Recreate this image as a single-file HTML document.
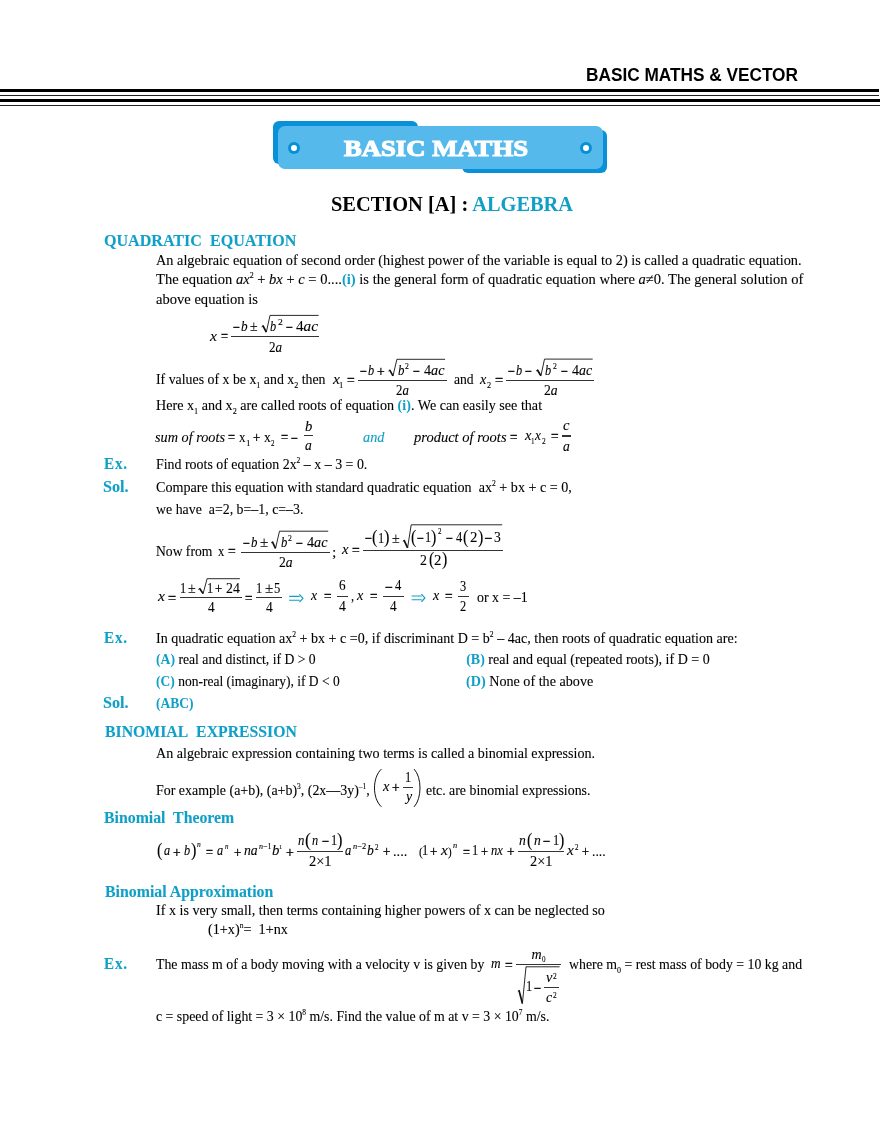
<!DOCTYPE html>
<html><head><meta charset="utf-8"><style>
*{margin:0;padding:0;box-sizing:border-box}
html,body{width:880px;height:1139px;background:#fff;overflow:hidden}
body{position:relative;font-family:"Liberation Serif",serif;color:#000;-webkit-text-stroke:0.1px currentColor}
.t{position:absolute;white-space:nowrap;line-height:1;transform-origin:0 0}
.sans{font-family:"Liberation Sans",sans-serif}
.b{font-weight:bold;-webkit-text-stroke-width:0}
b{-webkit-text-stroke-width:0}
.c{color:#0f9fc7}
.sb{font-size:0.58em;position:relative;top:0.52em}
.sp{font-size:0.54em;position:relative;top:-0.78em}
svg{position:absolute;left:0;top:0}
#pg{position:absolute;left:0;top:0;width:880px;height:1139px;will-change:transform;background:#fff}
</style></head><body><div id="pg">
<div style="position:absolute;left:0;top:89px;width:879px;height:3px;background:#000"></div>
<div style="position:absolute;left:0;top:95px;width:879px;height:1px;background:#222"></div>
<div style="position:absolute;left:0;top:99px;width:880px;height:3px;background:#000"></div>
<div style="position:absolute;left:0;top:105px;width:880px;height:1px;background:#222"></div>
<div style="position:absolute;left:273px;top:121px;width:145px;height:43px;background:#0891d8;border-radius:6px"></div>
<div style="position:absolute;left:462px;top:130px;width:145px;height:43px;background:#0891d8;border-radius:6px"></div>
<div style="position:absolute;left:278px;top:126px;width:325px;height:43px;background:#55b9ec;border-radius:7px"></div>
<div style="position:absolute;left:288px;top:142px;width:12px;height:12px;border-radius:50%;background:#0a8fd3"></div>
<div style="position:absolute;left:291px;top:145px;width:6px;height:6px;border-radius:50%;background:#fff"></div>
<div style="position:absolute;left:580px;top:142px;width:12px;height:12px;border-radius:50%;background:#0a8fd3"></div>
<div style="position:absolute;left:583px;top:145px;width:6px;height:6px;border-radius:50%;background:#fff"></div>
<div style="position:absolute;left:231.20px;top:335.70px;width:88.30px;height:1.20px;background:#333"></div>
<div style="position:absolute;left:358.30px;top:379.70px;width:88.40px;height:1.20px;background:#333"></div>
<div style="position:absolute;left:506.20px;top:379.80px;width:88.30px;height:1.20px;background:#333"></div>
<div style="position:absolute;left:303.80px;top:435.20px;width:9.10px;height:1.20px;background:#333"></div>
<div style="position:absolute;left:561.80px;top:435.40px;width:9.10px;height:1.20px;background:#333"></div>
<div style="position:absolute;left:241.40px;top:551.90px;width:88.30px;height:1.20px;background:#333"></div>
<div style="position:absolute;left:363.10px;top:549.50px;width:140.20px;height:1.20px;background:#333"></div>
<div style="position:absolute;left:179.50px;top:597.10px;width:62.20px;height:1.20px;background:#333"></div>
<div style="position:absolute;left:256.40px;top:597.10px;width:25.60px;height:1.20px;background:#333"></div>
<div style="position:absolute;left:336.80px;top:595.70px;width:11.30px;height:1.20px;background:#333"></div>
<div style="position:absolute;left:383.30px;top:595.70px;width:20.50px;height:1.20px;background:#333"></div>
<div style="position:absolute;left:458.20px;top:595.50px;width:10.60px;height:1.20px;background:#333"></div>
<div style="position:absolute;left:402.70px;top:786.70px;width:10.00px;height:1.20px;background:#333"></div>
<div style="position:absolute;left:296.50px;top:850.90px;width:46.00px;height:1.20px;background:#333"></div>
<div style="position:absolute;left:517.80px;top:850.70px;width:46.60px;height:1.20px;background:#333"></div>
<div style="position:absolute;left:516.00px;top:963.90px;width:45.00px;height:1.20px;background:#333"></div>
<div style="position:absolute;left:544.20px;top:987.15px;width:14.50px;height:0.90px;background:#333"></div>
<svg width="880" height="1139" viewBox="0 0 880 1139" fill="none" stroke="#111" stroke-linecap="butt"><path d="M261.60 326.80 L263.00 325.60" stroke-width="0.9"/><path d="M262.80 325.50 L266.30 332.20" stroke-width="1.7"/><path d="M266.30 332.20 L270.00 315.40 L318.60 315.40" stroke-width="0.9" stroke-linejoin="miter"/><path d="M388.40 371.10 L389.80 369.90" stroke-width="0.9"/><path d="M389.60 369.80 L393.00 375.90" stroke-width="1.7"/><path d="M393.00 375.90 L396.90 359.30 L445.10 359.30" stroke-width="0.9" stroke-linejoin="miter"/><path d="M536.10 371.10 L537.50 369.90" stroke-width="0.9"/><path d="M537.30 369.80 L540.90 375.80" stroke-width="1.7"/><path d="M540.90 375.80 L544.50 359.10 L592.70 359.10" stroke-width="0.9" stroke-linejoin="miter"/><path d="M271.10 543.00 L272.50 541.80" stroke-width="0.9"/><path d="M272.30 541.70 L275.50 548.40" stroke-width="1.7"/><path d="M275.50 548.40 L279.50 531.20 L328.20 531.20" stroke-width="0.9" stroke-linejoin="miter"/><path d="M402.80 541.40 L404.20 540.20" stroke-width="0.9"/><path d="M404.00 540.10 L407.60 547.80" stroke-width="1.7"/><path d="M407.60 547.80 L411.20 524.80 L502.20 524.80" stroke-width="0.9" stroke-linejoin="miter"/><path d="M198.30 589.50 L199.70 588.30" stroke-width="0.9"/><path d="M199.50 588.20 L203.10 593.60" stroke-width="1.7"/><path d="M203.10 593.60 L207.10 578.70 L239.90 578.70" stroke-width="0.9" stroke-linejoin="miter"/><g stroke="#0f9fc7" fill="none" stroke-width="1.1"><path d="M289.10 596.38 H299.70 M289.10 600.22 H299.70"/><path d="M299.44 594.45 L302.90 598.30 L299.44 602.15" stroke-width="1.2"/></g><g stroke="#0f9fc7" fill="none" stroke-width="1.1"><path d="M411.60 595.98 H421.70 M411.60 599.82 H421.70"/><path d="M421.44 594.05 L424.90 597.90 L421.44 601.75" stroke-width="1.2"/></g><path d="M381.40 769.10 C372.20 777.39 372.20 798.51 381.40 806.80" stroke-width="1.00"/><path d="M414.10 769.10 C421.97 777.39 421.97 798.51 414.10 806.80" stroke-width="1.00"/><path d="M517.80 991.50 L519.20 990.30" stroke-width="0.9"/><path d="M519.00 990.20 L522.40 1003.50" stroke-width="1.7"/><path d="M522.40 1003.50 L526.00 966.80 L559.60 966.80" stroke-width="0.9" stroke-linejoin="miter"/></svg>
<div class="t b sans" style="left:586.01px;top:67px;font-size:17.50px;transform:scaleX(0.9850);color:#000">BASIC MATHS &amp; VECTOR</div>
<div class="t b" style="left:344.18px;top:137px;font-size:23.50px;transform:scaleX(1.1347);color:#fff;-webkit-text-stroke:1.1px currentColor">BASIC MATHS</div>
<div class="t b" style="left:331.03px;top:194px;font-size:21.00px;transform:scaleX(0.9717);">SECTION [A] : <span style="color:#0f9fc7">ALGEBRA</span></div>
<div class="t b c" style="left:104.10px;top:233px;font-size:16.00px;transform:scaleX(1.0046);-webkit-text-stroke:0.1px currentColor">QUADRATIC&nbsp; EQUATION</div>
<div class="t" style="left:155.90px;top:254px;font-size:14.00px;transform:scaleX(1.0213);">An algebraic equation of second order (highest power of the variable is equal to 2) is called a quadratic equation.</div>
<div class="t" style="left:155.90px;top:273px;font-size:14.00px;transform:scaleX(1.0380);">The equation <i>ax</i><span class="sp">2</span> + <i>bx</i> + <i>c</i> = 0....<span class="c"><b>(i)</b></span> is the general form of quadratic equation where <i>a</i>&ne;0. The general solution of</div>
<div class="t" style="left:155.90px;top:293px;font-size:14.00px;transform:scaleX(1.0398);">above equation is</div>
<div class="t" style="left:156.40px;top:373px;font-size:14.00px;transform:scaleX(0.9889);">If values of x be x<span class="sb">1</span> and x<span class="sb">2</span> then</div>
<div class="t" style="left:156.40px;top:399px;font-size:14.00px;transform:scaleX(1.0089);">Here x<span class="sb">1</span> and x<span class="sb">2</span> are called roots of equation <span class="c"><b>(i)</b></span>. We can easily see that</div>
<div class="t b c" style="left:104.10px;top:456px;font-size:16.00px;transform:scaleX(0.9458);letter-spacing:0.9px;-webkit-text-stroke:0.1px currentColor">Ex.</div>
<div class="t" style="left:155.90px;top:458px;font-size:14.00px;transform:scaleX(0.9934);">Find roots of equation 2x<span class="sp">2</span> &ndash; x &ndash; 3 = 0.</div>
<div class="t b c" style="left:103.31px;top:479px;font-size:16.00px;transform:scaleX(1.0116);-webkit-text-stroke:0.1px currentColor">Sol.</div>
<div class="t" style="left:155.90px;top:481px;font-size:14.00px;transform:scaleX(1.0073);">Compare this equation with standard quadratic equation&nbsp; ax<span class="sp">2</span> + bx + c = 0,</div>
<div class="t" style="left:155.91px;top:503px;font-size:14.00px;transform:scaleX(0.9905);">we have&nbsp; a=2, b=&ndash;1, c=&ndash;3.</div>
<div class="t" style="left:155.90px;top:545px;font-size:14.00px;transform:scaleX(0.9724);">Now from</div>
<div class="t b c" style="left:104.10px;top:630px;font-size:16.00px;transform:scaleX(0.9458);letter-spacing:0.9px;-webkit-text-stroke:0.1px currentColor">Ex.</div>
<div class="t" style="left:155.90px;top:632px;font-size:14.00px;transform:scaleX(1.0043);">In quadratic equation ax<span class="sp">2</span> + bx + c =0, if discriminant D = b<span class="sp">2</span> &ndash; 4ac, then roots of quadratic equation are:</div>
<div class="t" style="left:155.50px;top:653px;font-size:14.00px;transform:scaleX(0.9773);"><span class="c"><b>(A)</b></span> real and distinct, if D &gt; 0</div>
<div class="t" style="left:466.20px;top:653px;font-size:14.00px;"><span class="c"><b>(B)</b></span> real and equal (repeated roots), if D = 0</div>
<div class="t" style="left:155.50px;top:675px;font-size:14.00px;transform:scaleX(0.9658);"><span class="c"><b>(C)</b></span> non-real (imaginary), if D &lt; 0</div>
<div class="t" style="left:466.20px;top:675px;font-size:14.00px;transform:scaleX(1.0103);"><span class="c"><b>(D)</b></span> None of the above</div>
<div class="t b c" style="left:103.31px;top:695px;font-size:16.00px;transform:scaleX(1.0116);-webkit-text-stroke:0.1px currentColor">Sol.</div>
<div class="t" style="left:155.50px;top:697px;font-size:14.00px;transform:scaleX(0.9667);"><span class="c"><b>(ABC)</b></span></div>
<div class="t b c" style="left:104.50px;top:724px;font-size:16.00px;transform:scaleX(0.9856);-webkit-text-stroke:0.1px currentColor">BINOMIAL&nbsp; EXPRESSION</div>
<div class="t" style="left:155.90px;top:747px;font-size:14.00px;transform:scaleX(1.0057);">An algebraic expression containing two terms is called a binomial expression.</div>
<div class="t" style="left:155.90px;top:784px;font-size:14.00px;transform:scaleX(0.9950);">For example (a+b), (a+b)<span class="sp">3</span>, (2x&mdash;3y)<span class="sp">&ndash;1</span>,</div>
<div class="t" style="left:425.50px;top:784px;font-size:14.00px;transform:scaleX(0.9905);">etc. are binomial expressions.</div>
<div class="t b c" style="left:103.80px;top:810px;font-size:16.00px;transform:scaleX(0.9879);-webkit-text-stroke:0.1px currentColor">Binomial&nbsp; Theorem</div>
<div class="t b c" style="left:104.50px;top:884px;font-size:16.00px;transform:scaleX(0.9900);-webkit-text-stroke:0.1px currentColor">Binomial Approximation</div>
<div class="t" style="left:155.90px;top:904px;font-size:14.00px;transform:scaleX(1.0092);">If x is very small, then terms containing higher powers of x can be neglected so</div>
<div class="t" style="left:207.70px;top:923px;font-size:14.00px;transform:scaleX(1.0138);">(1+x)<span class="sp">n</span>= &nbsp;1+nx</div>
<div class="t b c" style="left:104.10px;top:956px;font-size:16.00px;transform:scaleX(0.9458);letter-spacing:0.9px;-webkit-text-stroke:0.1px currentColor">Ex.</div>
<div class="t" style="left:155.90px;top:958px;font-size:14.00px;transform:scaleX(0.9877);">The mass m of a body moving with a velocity v is given by</div>
<div class="t" style="left:568.81px;top:958px;font-size:14.00px;transform:scaleX(0.9873);">where m<span class="sb">0</span> = rest mass of body = 10 kg and</div>
<div class="t" style="left:155.90px;top:1010px;font-size:14.00px;transform:scaleX(0.9879);">c = speed of light = 3 &times; 10<span class="sp">8</span> m/s. Find the value of m at v = 3 &times; 10<span class="sp">7</span> m/s.</div>
<div class="t" style="left:210.09px;top:330px;font-size:14.00px;transform:scaleX(1.1200);"><i>x</i></div>
<div class="t" style="left:220.90px;top:330px;font-size:14.00px;transform:scaleX(0.8875);-webkit-text-stroke:0.35px currentColor;">=</div>
<div class="t" style="left:232.68px;top:321px;font-size:14.00px;transform:scaleX(0.8800);-webkit-text-stroke:0.35px currentColor;">&minus;</div>
<div class="t" style="left:240.50px;top:320px;font-size:14.00px;transform:scaleX(0.9429);"><i>b</i></div>
<div class="t" style="left:250.40px;top:320px;font-size:14.00px;transform:scaleX(0.9893);">&plusmn;</div>
<div class="t" style="left:270.17px;top:320px;font-size:14.00px;transform:scaleX(0.8800);"><i>b</i></div>
<div class="t" style="left:277.81px;top:318px;font-size:8.60px;transform:scaleX(1.1200);">2</div>
<div class="t" style="left:285.58px;top:321px;font-size:14.00px;transform:scaleX(0.8800);-webkit-text-stroke:0.35px currentColor;">&minus;</div>
<div class="t" style="left:296.20px;top:320px;font-size:14.00px;transform:scaleX(1.0877);">4<i>ac</i></div>
<div class="t" style="left:268.90px;top:341px;font-size:14.00px;transform:scaleX(0.9357);">2<i>a</i></div>
<div class="t" style="left:333.09px;top:373px;font-size:14.00px;transform:scaleX(1.1200);"><i>x</i></div>
<div class="t" style="left:338.93px;top:382px;font-size:8.00px;transform:scaleX(1.0699);">1</div>
<div class="t" style="left:347.20px;top:374px;font-size:14.00px;transform:scaleX(0.9750);-webkit-text-stroke:0.35px currentColor;">=</div>
<div class="t" style="left:359.68px;top:365px;font-size:14.00px;transform:scaleX(0.8800);-webkit-text-stroke:0.35px currentColor;">&minus;</div>
<div class="t" style="left:367.67px;top:364px;font-size:14.00px;transform:scaleX(0.8800);"><i>b</i></div>
<div class="t" style="left:377.10px;top:365px;font-size:14.00px;transform:scaleX(0.9750);-webkit-text-stroke:0.35px currentColor;">+</div>
<div class="t" style="left:397.70px;top:364px;font-size:14.00px;transform:scaleX(0.9143);"><i>b</i></div>
<div class="t" style="left:405.30px;top:362px;font-size:8.60px;transform:scaleX(0.9000);">2</div>
<div class="t" style="left:413.08px;top:365px;font-size:14.00px;transform:scaleX(0.8800);-webkit-text-stroke:0.35px currentColor;">&minus;</div>
<div class="t" style="left:424.00px;top:364px;font-size:14.00px;transform:scaleX(1.0128);">4<i>ac</i></div>
<div class="t" style="left:396.10px;top:384px;font-size:14.00px;transform:scaleX(0.9143);">2<i>a</i></div>
<div class="t" style="left:453.50px;top:373px;font-size:14.00px;transform:scaleX(0.9706);">and</div>
<div class="t" style="left:479.53px;top:373px;font-size:14.00px;transform:scaleX(1.0200);"><i>x</i></div>
<div class="t" style="left:486.60px;top:382px;font-size:8.00px;transform:scaleX(1.0250);">2</div>
<div class="t" style="left:494.80px;top:374px;font-size:14.00px;transform:scaleX(1.0250);-webkit-text-stroke:0.35px currentColor;">=</div>
<div class="t" style="left:507.68px;top:365px;font-size:14.00px;transform:scaleX(0.8800);-webkit-text-stroke:0.35px currentColor;">&minus;</div>
<div class="t" style="left:515.57px;top:364px;font-size:14.00px;transform:scaleX(0.8800);"><i>b</i></div>
<div class="t" style="left:525.38px;top:365px;font-size:14.00px;transform:scaleX(0.8800);-webkit-text-stroke:0.35px currentColor;">&minus;</div>
<div class="t" style="left:545.37px;top:364px;font-size:14.00px;transform:scaleX(0.8800);"><i>b</i></div>
<div class="t" style="left:553.20px;top:362px;font-size:8.60px;transform:scaleX(0.9000);">2</div>
<div class="t" style="left:561.28px;top:365px;font-size:14.00px;transform:scaleX(0.8800);-webkit-text-stroke:0.35px currentColor;">&minus;</div>
<div class="t" style="left:571.80px;top:364px;font-size:14.00px;transform:scaleX(0.9978);">4<i>ac</i></div>
<div class="t" style="left:543.60px;top:384px;font-size:14.00px;transform:scaleX(0.9786);">2<i>a</i></div>
<div class="t" style="left:155.00px;top:430px;font-size:15.00px;transform:scaleX(0.9506);"><i>sum of roots</i></div>
<div class="t" style="left:228.30px;top:431px;font-size:14.00px;transform:scaleX(0.8875);-webkit-text-stroke:0.35px currentColor;">=</div>
<div class="t" style="left:238.80px;top:431px;font-size:14.00px;transform:scaleX(0.9286);">x</div>
<div class="t" style="left:245.79px;top:440px;font-size:8.00px;transform:scaleX(1.1145);">1</div>
<div class="t" style="left:252.70px;top:431px;font-size:14.00px;transform:scaleX(0.9250);-webkit-text-stroke:0.35px currentColor;">+</div>
<div class="t" style="left:263.50px;top:431px;font-size:14.00px;transform:scaleX(0.9714);">x</div>
<div class="t" style="left:271.04px;top:440px;font-size:8.00px;transform:scaleX(0.8800);">2</div>
<div class="t" style="left:280.50px;top:431px;font-size:14.00px;transform:scaleX(0.9000);-webkit-text-stroke:0.35px currentColor;">=</div>
<div class="t" style="left:290.68px;top:432px;font-size:14.00px;transform:scaleX(0.8800);-webkit-text-stroke:0.35px currentColor;">&minus;</div>
<div class="t" style="left:305.00px;top:420px;font-size:14.00px;transform:scaleX(1.0429);"><i>b</i></div>
<div class="t" style="left:305.00px;top:439px;font-size:14.00px;transform:scaleX(0.9714);"><i>a</i></div>
<div class="t c" style="left:362.60px;top:430px;font-size:15.00px;transform:scaleX(0.9522);"><i>and</i></div>
<div class="t" style="left:414.17px;top:430px;font-size:15.00px;transform:scaleX(0.9686);"><i>product of roots</i></div>
<div class="t" style="left:510.20px;top:431px;font-size:14.00px;transform:scaleX(0.9375);-webkit-text-stroke:0.35px currentColor;">=</div>
<div class="t" style="left:525.13px;top:429px;font-size:14.00px;transform:scaleX(1.0362);"><i>x</i></div>
<div class="t" style="left:530.99px;top:438px;font-size:8.00px;transform:scaleX(0.8916);">1</div>
<div class="t" style="left:535.12px;top:429px;font-size:14.00px;transform:scaleX(0.9552);"><i>x</i></div>
<div class="t" style="left:541.80px;top:438px;font-size:8.00px;transform:scaleX(0.9250);">2</div>
<div class="t" style="left:550.50px;top:430px;font-size:14.00px;transform:scaleX(0.9625);-webkit-text-stroke:0.35px currentColor;">=</div>
<div class="t" style="left:563.20px;top:419px;font-size:14.00px;transform:scaleX(1.0425);"><i>c</i></div>
<div class="t" style="left:562.70px;top:440px;font-size:14.00px;transform:scaleX(0.9714);"><i>a</i></div>
<div class="t" style="left:218.20px;top:545px;font-size:14.00px;transform:scaleX(0.9000);">x</div>
<div class="t" style="left:227.70px;top:545px;font-size:14.00px;transform:scaleX(0.9750);-webkit-text-stroke:0.35px currentColor;">=</div>
<div class="t" style="left:242.58px;top:537px;font-size:14.00px;transform:scaleX(0.8800);-webkit-text-stroke:0.35px currentColor;">&minus;</div>
<div class="t" style="left:250.90px;top:536px;font-size:14.00px;transform:scaleX(0.9143);"><i>b</i></div>
<div class="t" style="left:260.00px;top:536px;font-size:14.00px;transform:scaleX(1.0730);">&plusmn;</div>
<div class="t" style="left:280.50px;top:536px;font-size:14.00px;transform:scaleX(0.9000);"><i>b</i></div>
<div class="t" style="left:288.20px;top:534px;font-size:8.60px;transform:scaleX(0.9000);">2</div>
<div class="t" style="left:296.28px;top:537px;font-size:14.00px;transform:scaleX(0.8800);-webkit-text-stroke:0.35px currentColor;">&minus;</div>
<div class="t" style="left:307.30px;top:536px;font-size:14.00px;transform:scaleX(1.0178);">4<i>ac</i></div>
<div class="t" style="left:278.60px;top:556px;font-size:14.00px;transform:scaleX(0.9786);">2<i>a</i></div>
<div class="t" style="left:331.97px;top:546px;font-size:14.00px;transform:scaleX(1.1200);">;</div>
<div class="t" style="left:341.74px;top:543px;font-size:14.00px;transform:scaleX(1.0524);"><i>x</i></div>
<div class="t" style="left:351.90px;top:544px;font-size:14.00px;transform:scaleX(0.9750);-webkit-text-stroke:0.35px currentColor;">=</div>
<div class="t" style="left:364.70px;top:532px;font-size:14.00px;transform:scaleX(0.8875);-webkit-text-stroke:0.35px currentColor;">&minus;</div>
<div class="t" style="left:372.33px;top:528px;font-size:18.64px;transform:scaleX(0.8800);">(</div>
<div class="t" style="left:378.41px;top:532px;font-size:14.00px;transform:scaleX(0.8800);">1</div>
<div class="t" style="left:384.26px;top:528px;font-size:18.64px;transform:scaleX(0.8800);">)</div>
<div class="t" style="left:391.70px;top:532px;font-size:14.00px;transform:scaleX(1.0033);">&plusmn;</div>
<div class="t" style="left:411.46px;top:528px;font-size:18.20px;transform:scaleX(0.8800);">(</div>
<div class="t" style="left:417.03px;top:532px;font-size:14.00px;transform:scaleX(0.8800);-webkit-text-stroke:0.35px currentColor;">&minus;</div>
<div class="t" style="left:425.16px;top:531px;font-size:14.00px;transform:scaleX(0.8800);">1</div>
<div class="t" style="left:431.46px;top:528px;font-size:18.20px;transform:scaleX(0.8800);">)</div>
<div class="t" style="left:438.19px;top:528px;font-size:8.00px;transform:scaleX(0.8800);">2</div>
<div class="t" style="left:445.78px;top:532px;font-size:14.00px;transform:scaleX(0.8800);-webkit-text-stroke:0.35px currentColor;">&minus;</div>
<div class="t" style="left:455.60px;top:531px;font-size:14.00px;transform:scaleX(0.8857);">4</div>
<div class="t" style="left:463.46px;top:528px;font-size:18.20px;transform:scaleX(0.8800);">(</div>
<div class="t" style="left:469.80px;top:531px;font-size:14.00px;transform:scaleX(1.0571);">2</div>
<div class="t" style="left:477.66px;top:528px;font-size:18.20px;transform:scaleX(0.8800);">)</div>
<div class="t" style="left:484.50px;top:532px;font-size:14.00px;-webkit-text-stroke:0.35px currentColor;">&minus;</div>
<div class="t" style="left:494.20px;top:531px;font-size:14.00px;transform:scaleX(0.9714);">3</div>
<div class="t" style="left:420.30px;top:554px;font-size:14.00px;transform:scaleX(0.9857);">2</div>
<div class="t" style="left:428.51px;top:550px;font-size:18.09px;transform:scaleX(0.8800);">(</div>
<div class="t" style="left:434.00px;top:554px;font-size:14.00px;transform:scaleX(1.0571);">2</div>
<div class="t" style="left:441.86px;top:550px;font-size:18.09px;transform:scaleX(0.8800);">)</div>
<div class="t" style="left:158.44px;top:590px;font-size:14.00px;transform:scaleX(1.1171);"><i>x</i></div>
<div class="t" style="left:167.80px;top:592px;font-size:14.00px;transform:scaleX(1.0250);-webkit-text-stroke:0.35px currentColor;">=</div>
<div class="t" style="left:179.76px;top:582px;font-size:14.00px;transform:scaleX(0.8800);">1</div>
<div class="t" style="left:187.70px;top:582px;font-size:14.00px;transform:scaleX(1.0033);">&plusmn;</div>
<div class="t" style="left:206.81px;top:582px;font-size:14.00px;transform:scaleX(0.8800);">1</div>
<div class="t" style="left:215.30px;top:582px;font-size:14.00px;transform:scaleX(0.9000);-webkit-text-stroke:0.35px currentColor;">+</div>
<div class="t" style="left:225.60px;top:582px;font-size:14.00px;transform:scaleX(0.9857);">24</div>
<div class="t" style="left:207.70px;top:601px;font-size:14.00px;transform:scaleX(0.9429);">4</div>
<div class="t" style="left:245.20px;top:592px;font-size:14.00px;transform:scaleX(0.9500);-webkit-text-stroke:0.35px currentColor;">=</div>
<div class="t" style="left:256.31px;top:582px;font-size:14.00px;transform:scaleX(0.8800);">1</div>
<div class="t" style="left:264.60px;top:582px;font-size:14.00px;transform:scaleX(1.0730);">&plusmn;</div>
<div class="t" style="left:274.11px;top:582px;font-size:14.00px;transform:scaleX(0.8981);">5</div>
<div class="t" style="left:266.10px;top:601px;font-size:14.00px;transform:scaleX(0.9571);">4</div>
<div class="t" style="left:311.23px;top:589px;font-size:14.00px;transform:scaleX(0.9876);"><i>x</i></div>
<div class="t" style="left:323.50px;top:590px;font-size:14.00px;transform:scaleX(0.9500);-webkit-text-stroke:0.35px currentColor;">=</div>
<div class="t" style="left:338.70px;top:579px;font-size:14.00px;transform:scaleX(0.9429);">6</div>
<div class="t" style="left:338.70px;top:600px;font-size:14.00px;transform:scaleX(0.9714);">4</div>
<div class="t" style="left:350.68px;top:590px;font-size:14.00px;transform:scaleX(0.8800);">,</div>
<div class="t" style="left:357.33px;top:589px;font-size:14.00px;transform:scaleX(1.0200);"><i>x</i></div>
<div class="t" style="left:369.70px;top:590px;font-size:14.00px;transform:scaleX(0.9500);-webkit-text-stroke:0.35px currentColor;">=</div>
<div class="t" style="left:385.00px;top:581px;font-size:14.00px;-webkit-text-stroke:0.35px currentColor;">&minus;</div>
<div class="t" style="left:394.70px;top:579px;font-size:14.00px;transform:scaleX(0.9000);">4</div>
<div class="t" style="left:389.80px;top:600px;font-size:14.00px;transform:scaleX(0.9429);">4</div>
<div class="t" style="left:433.23px;top:589px;font-size:14.00px;transform:scaleX(1.0038);"><i>x</i></div>
<div class="t" style="left:444.90px;top:590px;font-size:14.00px;transform:scaleX(0.9625);-webkit-text-stroke:0.35px currentColor;">=</div>
<div class="t" style="left:459.87px;top:580px;font-size:14.00px;transform:scaleX(0.8800);">3</div>
<div class="t" style="left:459.70px;top:600px;font-size:14.00px;transform:scaleX(0.8857);">2</div>
<div class="t" style="left:476.60px;top:591px;font-size:14.00px;transform:scaleX(0.9931);">or x = &ndash;1</div>
<div class="t" style="left:382.83px;top:780px;font-size:14.00px;transform:scaleX(1.0362);"><i>x</i></div>
<div class="t" style="left:391.80px;top:781px;font-size:14.00px;transform:scaleX(0.9625);-webkit-text-stroke:0.35px currentColor;">+</div>
<div class="t" style="left:404.56px;top:771px;font-size:14.00px;transform:scaleX(0.8800);">1</div>
<div class="t" style="left:405.66px;top:790px;font-size:14.00px;transform:scaleX(0.9865);"><i>y</i></div>
<div class="t" style="left:156.83px;top:841px;font-size:18.53px;transform:scaleX(0.8800);">(</div>
<div class="t" style="left:163.92px;top:844px;font-size:14.00px;transform:scaleX(0.8800);"><i>a</i></div>
<div class="t" style="left:173.40px;top:846px;font-size:14.00px;transform:scaleX(0.9625);-webkit-text-stroke:0.35px currentColor;">+</div>
<div class="t" style="left:183.67px;top:844px;font-size:14.00px;transform:scaleX(0.8800);"><i>b</i></div>
<div class="t" style="left:190.61px;top:841px;font-size:18.53px;transform:scaleX(0.8800);">)</div>
<div class="t" style="left:197.10px;top:841px;font-size:7.50px;"><i>n</i></div>
<div class="t" style="left:205.53px;top:846px;font-size:14.00px;transform:scaleX(0.8800);-webkit-text-stroke:0.35px currentColor;">=</div>
<div class="t" style="left:217.02px;top:844px;font-size:14.00px;transform:scaleX(0.8800);"><i>a</i></div>
<div class="t" style="left:225.20px;top:843px;font-size:7.50px;transform:scaleX(0.9250);"><i>n</i></div>
<div class="t" style="left:233.50px;top:846px;font-size:14.00px;transform:scaleX(0.9250);-webkit-text-stroke:0.35px currentColor;">+</div>
<div class="t" style="left:244.30px;top:844px;font-size:14.00px;transform:scaleX(0.9786);"><i>na</i></div>
<div class="t" style="left:259.10px;top:843px;font-size:7.50px;transform:scaleX(1.0726);"><i>n</i>&minus;1</div>
<div class="t" style="left:271.60px;top:844px;font-size:14.00px;transform:scaleX(1.0571);"><i>b</i></div>
<div class="t" style="left:279.25px;top:844px;font-size:7.00px;transform:scaleX(0.8800);">1</div>
<div class="t" style="left:286.40px;top:846px;font-size:14.00px;transform:scaleX(0.9875);-webkit-text-stroke:0.35px currentColor;">+</div>
<div class="t" style="left:297.90px;top:834px;font-size:14.00px;transform:scaleX(0.9143);"><i>n</i></div>
<div class="t" style="left:304.88px;top:831px;font-size:18.53px;transform:scaleX(0.9529);">(</div>
<div class="t" style="left:312.37px;top:834px;font-size:14.00px;transform:scaleX(0.8800);"><i>n</i></div>
<div class="t" style="left:322.00px;top:835px;font-size:14.00px;transform:scaleX(0.9125);-webkit-text-stroke:0.35px currentColor;">&minus;</div>
<div class="t" style="left:331.16px;top:834px;font-size:14.00px;transform:scaleX(0.8800);">1</div>
<div class="t" style="left:337.11px;top:831px;font-size:18.53px;transform:scaleX(0.8800);">)</div>
<div class="t" style="left:308.80px;top:855px;font-size:14.00px;transform:scaleX(1.0310);">2&times;1</div>
<div class="t" style="left:345.20px;top:844px;font-size:14.00px;transform:scaleX(0.9000);"><i>a</i></div>
<div class="t" style="left:352.90px;top:843px;font-size:8.00px;transform:scaleX(1.0481);"><i>n</i>&minus;2</div>
<div class="t" style="left:367.40px;top:844px;font-size:14.00px;transform:scaleX(0.9714);"><i>b</i></div>
<div class="t" style="left:375.29px;top:844px;font-size:8.00px;transform:scaleX(0.8800);">2</div>
<div class="t" style="left:382.70px;top:845px;font-size:14.00px;transform:scaleX(0.9250);-webkit-text-stroke:0.35px currentColor;">+</div>
<div class="t" style="left:392.54px;top:845px;font-size:14.00px;transform:scaleX(1.0292);">....</div>
<div class="t" style="left:418.70px;top:846px;font-size:12.57px;transform:scaleX(0.9250);">(</div>
<div class="t" style="left:422.41px;top:844px;font-size:14.00px;transform:scaleX(0.8800);">1</div>
<div class="t" style="left:429.90px;top:845px;font-size:14.00px;transform:scaleX(0.9250);-webkit-text-stroke:0.35px currentColor;">+</div>
<div class="t" style="left:440.84px;top:844px;font-size:14.00px;transform:scaleX(1.1010);"><i>x</i></div>
<div class="t" style="left:448.04px;top:846px;font-size:12.57px;transform:scaleX(0.8800);">)</div>
<div class="t" style="left:452.66px;top:842px;font-size:7.50px;transform:scaleX(1.1200);"><i>n</i></div>
<div class="t" style="left:462.58px;top:846px;font-size:14.00px;transform:scaleX(0.8800);-webkit-text-stroke:0.35px currentColor;">=</div>
<div class="t" style="left:472.31px;top:844px;font-size:14.00px;transform:scaleX(0.8800);">1</div>
<div class="t" style="left:480.78px;top:845px;font-size:14.00px;transform:scaleX(0.8800);-webkit-text-stroke:0.35px currentColor;">+</div>
<div class="t" style="left:491.40px;top:844px;font-size:14.00px;transform:scaleX(0.9044);"><i>nx</i></div>
<div class="t" style="left:506.80px;top:845px;font-size:14.00px;transform:scaleX(0.9625);-webkit-text-stroke:0.35px currentColor;">+</div>
<div class="t" style="left:519.00px;top:834px;font-size:14.00px;transform:scaleX(0.9714);"><i>n</i></div>
<div class="t" style="left:526.81px;top:831px;font-size:18.20px;transform:scaleX(0.8800);">(</div>
<div class="t" style="left:533.80px;top:834px;font-size:14.00px;transform:scaleX(0.9714);"><i>n</i></div>
<div class="t" style="left:543.40px;top:835px;font-size:14.00px;transform:scaleX(0.9250);-webkit-text-stroke:0.35px currentColor;">&minus;</div>
<div class="t" style="left:553.06px;top:834px;font-size:14.00px;transform:scaleX(0.8800);">1</div>
<div class="t" style="left:558.96px;top:831px;font-size:18.20px;transform:scaleX(0.8800);">)</div>
<div class="t" style="left:530.30px;top:855px;font-size:14.00px;transform:scaleX(1.0215);">2&times;1</div>
<div class="t" style="left:567.44px;top:844px;font-size:14.00px;transform:scaleX(1.1010);"><i>x</i></div>
<div class="t" style="left:574.89px;top:844px;font-size:8.00px;transform:scaleX(0.8800);">2</div>
<div class="t" style="left:582.48px;top:845px;font-size:14.00px;transform:scaleX(0.8800);-webkit-text-stroke:0.35px currentColor;">+</div>
<div class="t" style="left:592.49px;top:845px;font-size:14.00px;transform:scaleX(0.9798);">....</div>
<div class="t" style="left:491.00px;top:957px;font-size:14.00px;transform:scaleX(0.9500);"><i>m</i></div>
<div class="t" style="left:504.60px;top:959px;font-size:14.00px;transform:scaleX(0.9750);-webkit-text-stroke:0.35px currentColor;">=</div>
<div class="t" style="left:531.50px;top:948px;font-size:14.00px;"><i>m</i></div>
<div class="t" style="left:541.74px;top:956px;font-size:8.00px;transform:scaleX(0.8800);">0</div>
<div class="t" style="left:526.06px;top:980px;font-size:14.00px;transform:scaleX(0.8800);">1</div>
<div class="t" style="left:534.20px;top:982px;font-size:14.00px;transform:scaleX(0.9125);-webkit-text-stroke:0.35px currentColor;">&minus;</div>
<div class="t" style="left:545.50px;top:971px;font-size:14.00px;transform:scaleX(1.0277);"><i>v</i></div>
<div class="t" style="left:552.80px;top:973px;font-size:8.00px;transform:scaleX(0.9250);">2</div>
<div class="t" style="left:545.50px;top:991px;font-size:14.00px;transform:scaleX(0.9929);"><i>c</i></div>
<div class="t" style="left:552.80px;top:992px;font-size:8.00px;transform:scaleX(0.9250);">2</div>
</div></body></html>
